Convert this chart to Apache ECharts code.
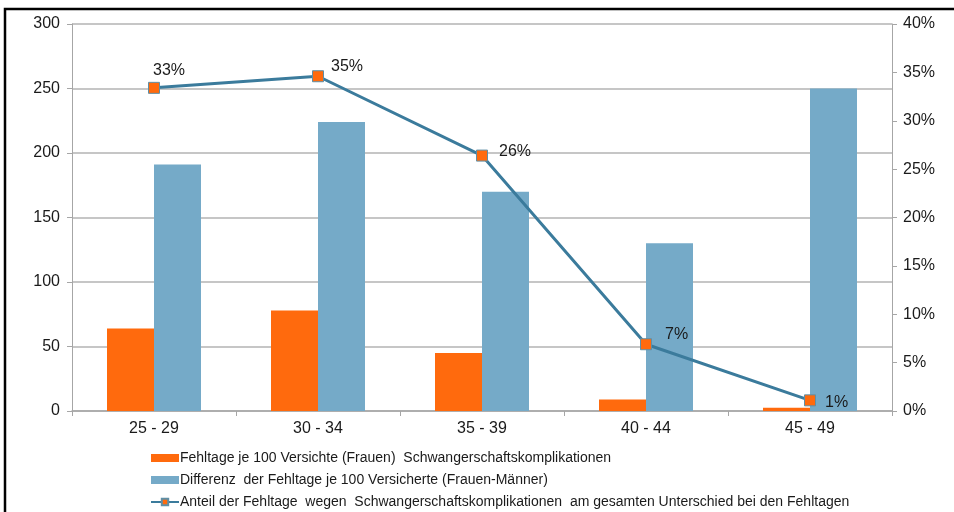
<!DOCTYPE html>
<html>
<head>
<meta charset="utf-8">
<script src="https://cdn.jsdelivr.net/npm/echarts@6/dist/echarts.min.js"></script>
<style>
  html, body { margin: 0; padding: 0; background: #fff; }
  #chart { width: 954px; height: 512px; }
</style>
</head>
<body>
<div id="chart"></div>
<script>
// Age groups on the category axis
const ageGroups = ['25 - 29', '30 - 34', '35 - 39', '40 - 44', '45 - 49'];
// Sick days per 100 insured women due to pregnancy complications
const fehltageKomplikationen = [64, 78, 45, 9, 2.5];
// Difference in sick days per 100 insured (women minus men)
const differenzFehltage = [191, 224, 170, 130, 250];
// Share of the pregnancy-complication days in the overall difference
const anteilKomplikationen = [0.334, 0.346, 0.264, 0.069, 0.011];
// Tick ranges of both value axes
const leftTicks = { min: 0, max: 300, interval: 50 };
const rightTicks = { min: 0, max: 0.4, interval: 0.05 };

const seriesNames = [
  'Fehltage je 100 Versichte (Frauen)  Schwangerschaftskomplikationen',
  'Differenz  der Fehltage je 100 Versicherte (Frauen-Männer)',
  'Anteil der Fehltage  wegen  Schwangerschaftskomplikationen  am gesamten Unterschied bei den Fehltagen'
];

// Where each percentage label sits relative to its point
const labelPlacement = [
  { position: 'top', offset: [15, 2] },
  { position: 'right', offset: [2, -10] },
  { position: 'right', offset: [6, -4] },
  { position: 'right', offset: [8, -10] },
  { position: 'right', offset: [4, 2] }
];

const font = '"Liberation Sans", Arial, sans-serif';
const gridColor = '#b3b3b3';
const axisColor = '#a6a6a6';

const chart = echarts.init(document.getElementById('chart'), null, { renderer: 'canvas' });

chart.setOption({
  animation: false,
  backgroundColor: '#ffffff',
  textStyle: { fontFamily: font },
  grid: { left: 72, right: 62, top: 24, bottom: 101, containLabel: false },
  legend: {
    orient: 'vertical',
    left: 145,
    top: 448,
    padding: [2, 5, 0, 5],
    itemGap: 6,
    itemWidth: 28,
    itemHeight: 8,
    textStyle: { fontFamily: font, fontSize: 14, lineHeight: 16, color: '#1a1a1a', padding: [0, 0, 0, -4] },
    data: [
      { name: seriesNames[0], icon: 'rect' },
      { name: seriesNames[1], icon: 'rect' },
      { name: seriesNames[2] }
    ]
  },
  xAxis: {
    type: 'category',
    data: ageGroups,
    axisLine: { lineStyle: { color: axisColor, width: 1.5 } },
    axisTick: { show: true, length: 5, lineStyle: { color: axisColor } },
    axisLabel: { fontSize: 16, color: '#1a1a1a', margin: 10, fontFamily: font }
  },
  yAxis: [
    {
      type: 'value',
      min: leftTicks.min, max: leftTicks.max, interval: leftTicks.interval,
      axisLine: { show: true, lineStyle: { color: axisColor, width: 1 } },
      axisTick: { show: true, length: 5, lineStyle: { color: axisColor } },
      axisLabel: { fontSize: 16, color: '#1a1a1a', margin: 12, fontFamily: font },
      splitLine: { show: true, lineStyle: { color: gridColor, width: 1.5 } }
    },
    {
      type: 'value',
      position: 'right',
      min: rightTicks.min, max: rightTicks.max, interval: rightTicks.interval,
      axisLine: { show: true, lineStyle: { color: axisColor, width: 1 } },
      axisTick: { show: true, length: 5, lineStyle: { color: axisColor } },
      axisLabel: {
        fontSize: 16, color: '#1a1a1a', margin: 11, fontFamily: font,
        formatter: v => Math.round(v * 100) + '%'
      },
      splitLine: { show: false }
    }
  ],
  series: [
    {
      name: seriesNames[0],
      type: 'bar',
      yAxisIndex: 0,
      data: fehltageKomplikationen,
      barWidth: 47,
      barGap: '0%',
      itemStyle: { color: '#ff6a0d' }
    },
    {
      name: seriesNames[1],
      type: 'bar',
      yAxisIndex: 0,
      data: differenzFehltage,
      barWidth: 47,
      barGap: '0%',
      itemStyle: { color: '#75aac8' }
    },
    {
      name: seriesNames[2],
      type: 'line',
      yAxisIndex: 1,
      data: anteilKomplikationen.map((v, i) => ({
        value: v,
        label: { position: labelPlacement[i].position, offset: labelPlacement[i].offset }
      })),
      symbol: 'rect',
      symbolSize: 11,
      z: 5,
      lineStyle: { color: '#3b7b9c', width: 3 },
      itemStyle: { color: '#ff6a0d', borderColor: '#5f8fa6', borderWidth: 1 },
      label: {
        show: true,
        fontSize: 16,
        color: '#1a1a1a',
        fontFamily: font,
        formatter: p => Math.round(p.value * 100) + '%'
      }
    }
  ],
  graphic: [
    {
      type: 'rect',
      silent: true,
      shape: { x: 5, y: 9, width: 1000, height: 600 },
      style: { fill: 'none', stroke: '#000000', lineWidth: 2.5 },
      z: 100
    }
  ]
});
</script>
</body>
</html>
